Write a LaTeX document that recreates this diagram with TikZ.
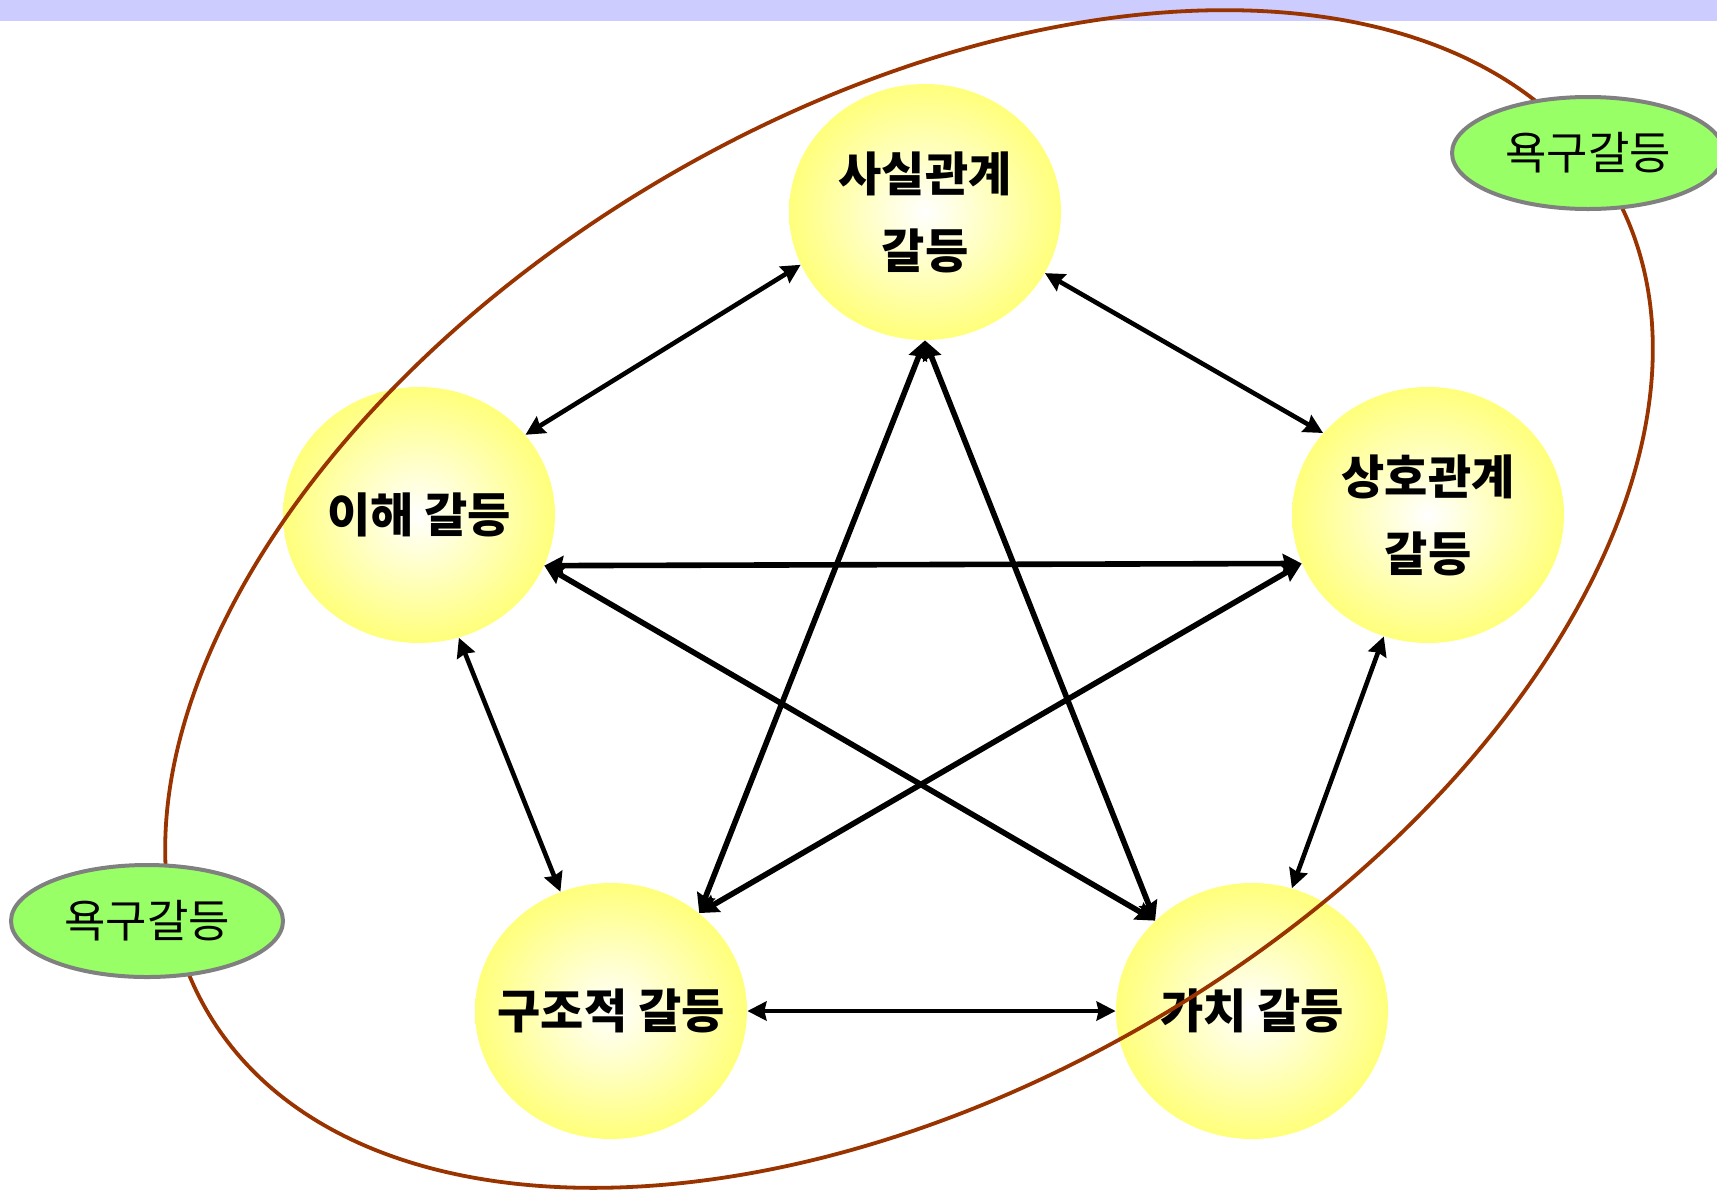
\documentclass[tikz,border=0pt]{standalone}
\usepackage{fontspec}
\newfontfamily\kr{Noto Sans CJK KR}
\usetikzlibrary{arrows.meta,shapes.geometric}
\definecolor{sunny}{HTML}{FFFF66}
\definecolor{leaf}{HTML}{99FF66}
\definecolor{rust}{HTML}{993300}
\definecolor{band}{HTML}{CCCCFF}
\pgfdeclareradialshading{glow}{\pgfpoint{0bp}{0bp}}{color(0bp)=(white); color(29bp)=(sunny); color(50bp)=(sunny)}

\begin{document}
\begin{tikzpicture}[x=0.5pt,y=-0.5pt,
 conflict/.style={ellipse,shading=glow,minimum width=136pt,minimum height=128pt,inner sep=-25pt,
 align=center,font=\kr\bfseries\fontsize{23.5}{38.5}\selectfont},
 need/.style={ellipse,draw=gray,line width=2pt,fill=leaf,minimum width=136pt,minimum height=56pt,
 inner sep=-20pt,font=\kr\fontsize{22.5}{26}\selectfont},
 >={Stealth[length=9.5pt,width=9.5pt,inset=1pt]}]
\useasboundingbox (0,0) rectangle (1717,1189);
\fill[band] (0,0) rectangle (1717,21);
\node[conflict] (fact) at (925,212) {사실관계\\갈등};
\node[conflict] (interest) at (419,515) {이해 갈등};
\node[conflict] (relation) at (1428,515) {상호관계\\갈등};
\node[conflict] (structure) at (611,1011) {구조적 갈등};
\node[conflict] (value) at (1252,1011) {가치 갈등};
\foreach \p/\q/\w in {fact.203/interest.37/2.3pt,fact.333/relation.142/2.3pt,
 fact.270/structure.48/2.8pt,fact.270/value.137/2.8pt,interest.338/relation.201/2.8pt,
 interest.338/value.137/2.8pt,relation.201/structure.48/2.8pt,
 interest.288/structure.113/2.3pt,relation.250/value.72/2.3pt,structure.0/value.180/2.3pt}
 \draw[<->,line width=\w] (\p)--(\q);
\draw[rust,line width=1.9pt,rotate around={30.5:(909,599)}] (909,599) ellipse (407pt and 243.5pt);
\node[need] (needR) at (1588,153) {욕구갈등};
\node[need] (needL) at (147,921) {욕구갈등};
\end{tikzpicture}
\end{document}
